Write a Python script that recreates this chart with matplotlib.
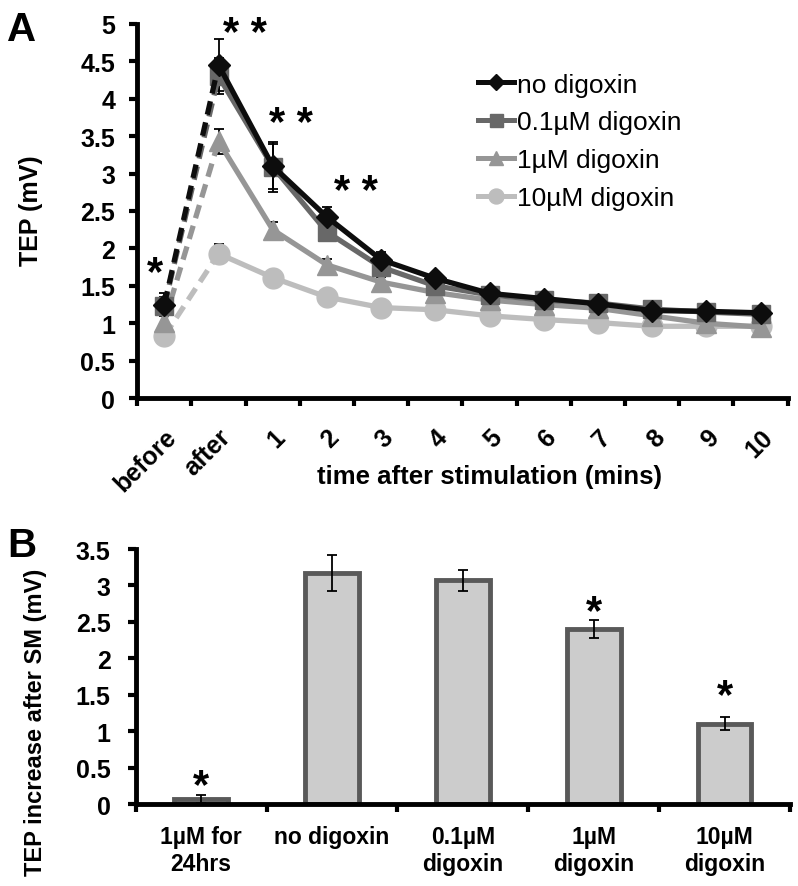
import numpy as np
import matplotlib
matplotlib.use('Agg')
import matplotlib.pyplot as plt
from matplotlib.lines import Line2D

plt.rcParams['font.family'] = ['Liberation Sans', 'DejaVu Sans']

# panel A data
time_labels = ['before', 'after', '1', '2', '3', '4', '5', '6', '7', '8', '9', '10']
series_names = ['no digoxin', '0.1\u00b5M digoxin', '1\u00b5M digoxin', '10\u00b5M digoxin']
no_dig = [1.25, 4.45, 3.10, 2.42, 1.85, 1.60, 1.40, 1.33, 1.26, 1.17, 1.16, 1.14]
dig_01 = [1.23, 4.30, 3.09, 2.22, 1.75, 1.50, 1.38, 1.31, 1.27, 1.19, 1.15, 1.12]
dig_1 = [1.02, 3.43, 2.25, 1.78, 1.55, 1.41, 1.31, 1.25, 1.20, 1.10, 1.00, 0.95]
dig_10 = [0.83, 1.93, 1.61, 1.35, 1.21, 1.18, 1.10, 1.05, 1.01, 0.96, 0.96, 0.96]
err_no = [0.15, 0.35, 0.30, 0.14, 0.10, 0.06, 0.05, 0.05, 0.04, 0.04, 0.04, 0.05]
err_01 = [0.12, 0.24, 0.33, 0.12, 0.10, 0.06, 0.05, 0.05, 0.04, 0.04, 0.04, 0.04]
err_1 = [0.10, 0.17, 0.10, 0.08, 0.07, 0.05, 0.05, 0.04, 0.04, 0.04, 0.04, 0.04]
err_10 = [0.05, 0.13, 0.08, 0.06, 0.05, 0.05, 0.04, 0.04, 0.04, 0.03, 0.03, 0.03]

# panel B data
bar_labels = ['1\u00b5M for\n24hrs', 'no digoxin', '0.1\u00b5M\ndigoxin', '1\u00b5M\ndigoxin', '10\u00b5M\ndigoxin']
bar_vals = [0.07, 3.17, 3.07, 2.40, 1.10]
bar_err = [0.05, 0.25, 0.14, 0.12, 0.09]

fig = plt.figure(figsize=(7.98, 8.87), dpi=100)

# ---------- panel A ----------
ax = fig.add_axes([0.172, 0.550, 0.815, 0.422])
x = np.arange(len(time_labels))
colors = ['#0d0d0d', '#686868', '#969696', '#bdbdbd']
markers = ['D', 's', '^', 'o']
msizes = [11.5, 13, 14, 15]
data = [no_dig, dig_01, dig_1, dig_10]
errs = [err_no, err_01, err_1, err_10]

handles = []
for i in range(3, -1, -1):
    y = np.array(data[i])
    ax.errorbar(x, y, yerr=errs[i], fmt='none', ecolor='black', elinewidth=1.3,
                capsize=3.5, capthick=1.3, zorder=2)
    ax.plot(x[:2], y[:2], color=colors[i], lw=3.8, ls=(0, (2.6, 1.5)), zorder=3 + (3 - i))
    ax.plot(x[1:], y[1:], color=colors[i], lw=3.8, zorder=3 + (3 - i))
    ax.plot(x, y, ls='none', marker=markers[i], ms=msizes[i], color=colors[i],
            mec=colors[i], zorder=3 + (3 - i))
for i in range(4):
    handles.append(Line2D([0], [0], color=colors[i], lw=3.6, marker=markers[i],
                          ms=msizes[i] * 0.72, label=series_names[i]))

ax.legend(handles=handles, loc='upper left', bbox_to_anchor=(0.508, 0.898), frameon=False,
          fontsize=19, handlelength=1.36, handletextpad=0.11, labelspacing=0.52,
          borderaxespad=0)

ax.set_xlim(-0.5, len(time_labels) - 0.5)
ax.set_ylim(0, 5)
ax.set_yticks(np.arange(0, 5.01, 0.5))
ax.set_yticklabels(['0', '0.5', '1', '1.5', '2', '2.5', '3', '3.5', '4', '4.5', '5'],
                   fontsize=18, fontweight='bold')
ax.set_xticks(np.arange(-0.5, len(time_labels), 1.0))
ax.set_xticklabels([])
ax.set_xticks(x, minor=True)
ax.set_xticklabels(time_labels, minor=True, rotation=45, ha='right', va='top',
                   rotation_mode='anchor', fontsize=18, fontweight='bold')
ax.tick_params(axis='x', which='minor', length=0, pad=19)
ax.tick_params(axis='both', which='major', width=3, length=6, direction='out')
ax.tick_params(axis='y', which='major', pad=10)
ax.tick_params(axis='x', which='major', labelbottom=False)
for s in ['top', 'right']:
    ax.spines[s].set_visible(False)
for s in ['left', 'bottom']:
    ax.spines[s].set_linewidth(3.5)
ax.set_ylabel('TEP (mV)', fontsize=18, fontweight='bold')
ax.yaxis.set_label_coords(-0.145, 0.503)
ax.text(6.0, -0.209, 'time after stimulation (mins)', transform=ax.get_xaxis_transform(),
        ha='center', va='center', fontsize=18.5, fontweight='bold')

# significance stars
ax.text(1.48, 4.86, '* *', ha='center', va='center', fontsize=30, fontweight='bold')
ax.text(2.33, 3.66, '* *', ha='center', va='center', fontsize=30, fontweight='bold')
ax.text(3.54, 2.76, '* *', ha='center', va='center', fontsize=30, fontweight='bold')
ax.text(-0.18, 1.67, '*', ha='center', va='center', fontsize=30, fontweight='bold')

# ---------- panel B ----------
bx = fig.add_axes([0.170, 0.0924, 0.820, 0.2875])
xb = np.arange(len(bar_labels))
bx.bar(xb, bar_vals, width=0.41, color='#cccccc', edgecolor='#595959', linewidth=3.5, zorder=2)
bx.errorbar(xb, bar_vals, yerr=bar_err, fmt='none', ecolor='black', elinewidth=1.3,
            capsize=3.5, capthick=1.3, zorder=3)
bx.set_xlim(-0.5, len(bar_labels) - 0.5)
bx.set_ylim(0, 3.5)
bx.set_yticks(np.arange(0, 3.51, 0.5))
bx.set_yticklabels(['0', '0.5', '1', '1.5', '2', '2.5', '3', '3.5'], fontsize=18,
                   fontweight='bold')
bx.set_xticks(np.arange(-0.5, len(bar_labels), 1.0))
bx.set_xticklabels([])
bx.set_xticks(xb, minor=True)
bx.set_xticklabels(bar_labels, minor=True, fontsize=16.5, fontweight='bold', linespacing=1.25)
bx.tick_params(axis='x', which='minor', length=0, pad=15)
bx.tick_params(axis='both', which='major', width=3, length=6, direction='out')
bx.tick_params(axis='y', which='major', pad=12)
for s in ['top', 'right']:
    bx.spines[s].set_visible(False)
for s in ['left', 'bottom']:
    bx.spines[s].set_linewidth(3.5)
bx.set_ylabel('TEP increase after SM (mV)', fontsize=17, fontweight='bold')
bx.yaxis.set_label_coords(-0.136, 0.325)
for xi, yi in [(0, 0.25), (3, 2.64), (4, 1.48)]:
    bx.text(xi, yi, '*', ha='center', va='center', fontsize=30, fontweight='bold')

fig.text(0.009, 0.9538, 'A', fontsize=29, fontweight='bold', va='baseline', ha='left')
fig.text(0.009, 0.372, 'B', fontsize=29, fontweight='bold', va='baseline', ha='left')

fig.savefig('out.png', dpi=100)
